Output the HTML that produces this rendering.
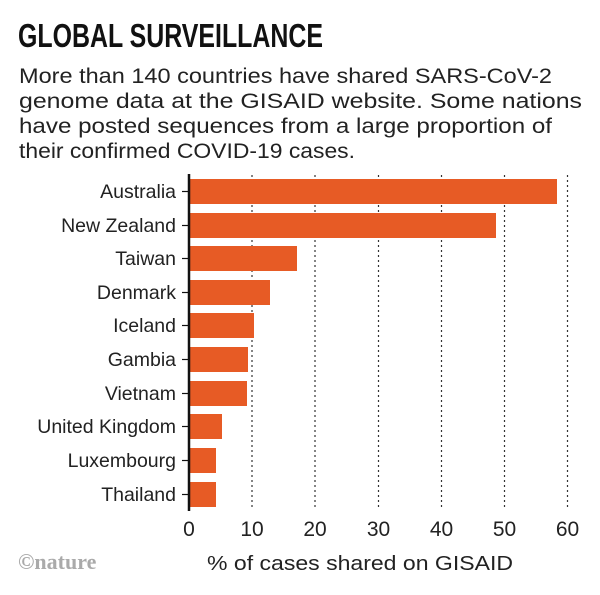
<!DOCTYPE html>
<html><head><style>
body{margin:0;background:#fff;width:600px;height:590px;overflow:hidden;font-family:"Liberation Sans",sans-serif;}
</style></head><body>
<svg width="600" height="590" xmlns="http://www.w3.org/2000/svg" font-family="Liberation Sans, sans-serif">
<text x="18" y="47" font-size="33" font-weight="bold" fill="#111" textLength="305" lengthAdjust="spacingAndGlyphs">GLOBAL SURVEILLANCE</text>
<g font-size="21" fill="#222">
<text x="19" y="83" textLength="533" lengthAdjust="spacingAndGlyphs">More than 140 countries have shared SARS-CoV-2</text>
<text x="19" y="108" textLength="563" lengthAdjust="spacingAndGlyphs">genome data at the GISAID website. Some nations</text>
<text x="19" y="133" textLength="533" lengthAdjust="spacingAndGlyphs">have posted sequences from a large proportion of</text>
<text x="19" y="158" textLength="336" lengthAdjust="spacingAndGlyphs">their confirmed COVID-19 cases.</text>
</g>
<g stroke="#333" stroke-width="1.2" stroke-dasharray="2,3">
<line x1="252" y1="175" x2="252" y2="510"/><line x1="315" y1="175" x2="315" y2="510"/>
<line x1="378.5" y1="175" x2="378.5" y2="510"/><line x1="441.5" y1="175" x2="441.5" y2="510"/>
<line x1="504.5" y1="175" x2="504.5" y2="510"/><line x1="567.5" y1="175" x2="567.5" y2="510"/>
</g>
<g fill="#e75b25">
<rect x="189" y="179" width="368" height="25"/>
<rect x="189" y="213" width="307" height="25"/>
<rect x="189" y="246" width="108" height="25"/>
<rect x="189" y="280" width="81" height="25"/>
<rect x="189" y="313" width="65" height="25"/>
<rect x="189" y="347" width="59" height="25"/>
<rect x="189" y="381" width="58" height="25"/>
<rect x="189" y="414" width="33" height="25"/>
<rect x="189" y="448" width="27" height="25"/>
<rect x="189" y="482" width="27" height="25"/>
</g>
<line x1="189" y1="174" x2="189" y2="511" stroke="#111" stroke-width="2.5"/>
<g stroke="#111" stroke-width="1.2">
<line x1="182" y1="191.5" x2="189" y2="191.5"/><line x1="182" y1="225.5" x2="189" y2="225.5"/>
<line x1="182" y1="258.5" x2="189" y2="258.5"/><line x1="182" y1="292.5" x2="189" y2="292.5"/>
<line x1="182" y1="325.5" x2="189" y2="325.5"/><line x1="182" y1="359.5" x2="189" y2="359.5"/>
<line x1="182" y1="393.5" x2="189" y2="393.5"/><line x1="182" y1="426.5" x2="189" y2="426.5"/>
<line x1="182" y1="460.5" x2="189" y2="460.5"/><line x1="182" y1="494.5" x2="189" y2="494.5"/>
</g>
<g font-size="19.5" fill="#222" text-anchor="end">
<text x="176" y="198">Australia</text><text x="176" y="232">New Zealand</text>
<text x="176" y="265">Taiwan</text><text x="176" y="299">Denmark</text>
<text x="176" y="332">Iceland</text><text x="176" y="366">Gambia</text>
<text x="176" y="400">Vietnam</text><text x="176" y="433">United Kingdom</text>
<text x="176" y="467">Luxembourg</text><text x="176" y="501">Thailand</text>
</g>
<g font-size="21" fill="#222" text-anchor="middle">
<text x="189" y="536">0</text><text x="252" y="536">10</text><text x="315" y="536">20</text>
<text x="378.5" y="536">30</text><text x="441.5" y="536">40</text><text x="504.5" y="536">50</text><text x="567.5" y="536">60</text>
<text x="360" y="570" font-size="20" textLength="306" lengthAdjust="spacingAndGlyphs">% of cases shared on GISAID</text>
</g>
<text x="18" y="569" font-size="22" font-weight="bold" fill="#aaa" font-family="Liberation Serif, serif">©nature</text>
</svg>
</body></html>
